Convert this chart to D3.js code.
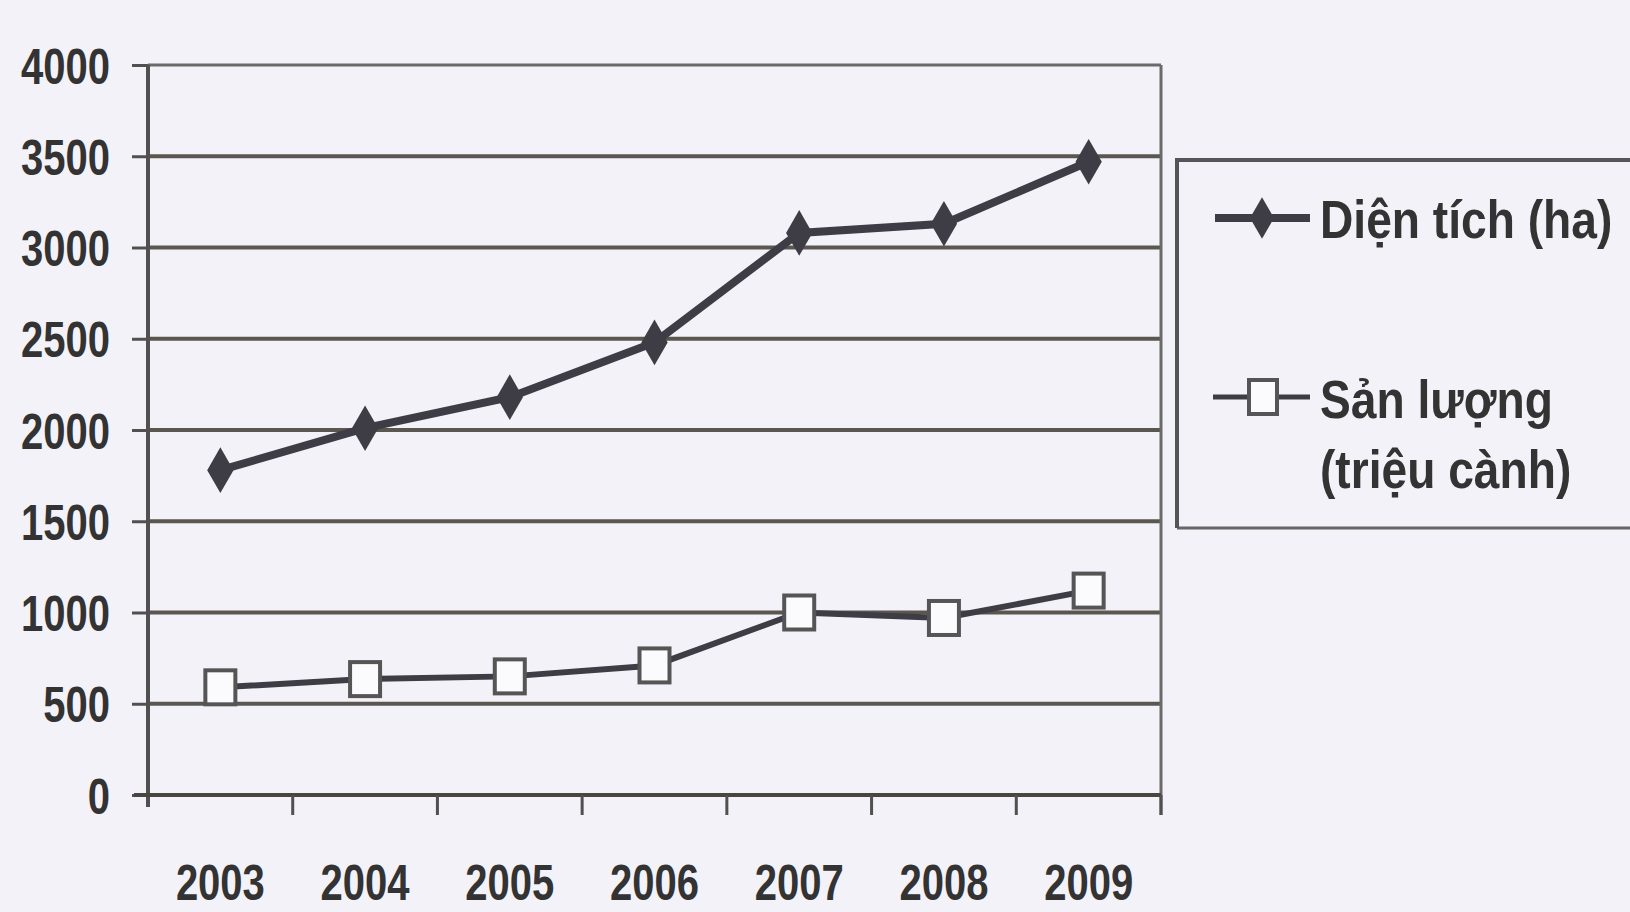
<!DOCTYPE html>
<html>
<head>
<meta charset="utf-8">
<script src="https://cdn.jsdelivr.net/npm/d3@7"></script>
<style>
  html, body { margin: 0; padding: 0; background: #f3f2f8; }
  svg { display: block; }
  .lbl { font-family: "Liberation Sans Narrow", "Arial Narrow", "Liberation Sans", sans-serif; font-weight: bold; fill: #333; }
</style>
</head>
<body>
<div id="chart"></div>
<script>
// data
const years = ['2003', '2004', '2005', '2006', '2007', '2008', '2009'];
const dienTich = [1780, 2010, 2180, 2480, 3080, 3130, 3470];   // ha
const sanLuong = [590, 635, 650, 710, 1000, 970, 1120];        // triệu cành
const yTicks = [0, 500, 1000, 1500, 2000, 2500, 3000, 3500, 4000];
const seriesNames = ['Diện tích (ha)', ['Sản lượng', '(triệu cành)']];

const W = 1630, H = 912;
const margin = { top: 65, left: 148 };
const plotW = 1013, plotH = 730;
const ink = '#3e3d45';

const svg = d3.select('#chart').append('svg')
    .attr('width', W).attr('height', H);

const g = svg.append('g').attr('transform', `translate(${margin.left},${margin.top})`);

const x = d3.scaleBand().domain(years).range([0, plotW]);
const y = d3.scaleLinear().domain([0, 4000]).range([plotH, 0]);

// gridlines
g.selectAll('.grid').data(yTicks.filter(d => d > 0 && d < 4000)).join('line')
    .attr('x1', 0).attr('x2', plotW)
    .attr('y1', d => y(d)).attr('y2', d => y(d))
    .attr('stroke', '#5b5650').attr('stroke-width', 4);

// top + right border
g.append('line').attr('x1', 0).attr('x2', plotW).attr('y1', 0).attr('y2', 0)
    .attr('stroke', '#6a6a6a').attr('stroke-width', 3);
g.append('line').attr('x1', plotW).attr('x2', plotW).attr('y1', 0).attr('y2', plotH + 20)
    .attr('stroke', '#6a6a6a').attr('stroke-width', 3);

// y axis
const yAxis = g.append('g')
    .call(d3.axisLeft(y).tickValues(yTicks).tickSize(16).tickPadding(22).tickFormat(d3.format('d')));
yAxis.select('.domain').attr('stroke', '#505050').attr('stroke-width', 4).attr('d', `M-0,${plotH + 12}V0`);
yAxis.selectAll('.tick line').attr('stroke', '#505050').attr('stroke-width', 3);
yAxis.selectAll('.tick text').attr('class', 'lbl').style('font-size', '50px').attr('dy', '0.36em');

// x axis: ticks sit on band edges
const xAxis = g.append('g').attr('transform', `translate(0,${plotH})`)
    .call(d3.axisBottom(x).tickSize(0).tickPadding(70));
xAxis.select('.domain').attr('stroke', '#4a4540').attr('stroke-width', 4).attr('d', `M-14,0H${plotW}`);
xAxis.selectAll('.tick text').attr('class', 'lbl').style('font-size', '50px');
g.selectAll('.xtick').data(years.slice(1).concat(['end'])).join('line')
    .attr('x1', (d, i) => x(years[i]) + x.bandwidth())
    .attr('x2', (d, i) => x(years[i]) + x.bandwidth())
    .attr('y1', plotH).attr('y2', plotH + 20)
    .attr('stroke', '#505050').attr('stroke-width', 3);

const cx = (d, i) => x(years[i]) + x.bandwidth() / 2;

// Sản lượng line + open squares
const line = d3.line().x(cx).y(d => y(d));
g.append('path').datum(sanLuong).attr('d', line)
    .attr('fill', 'none').attr('stroke', ink).attr('stroke-width', 6);
g.selectAll('.sq').data(sanLuong).join('rect')
    .attr('x', (d, i) => cx(d, i) - 15).attr('y', d => y(d) - 17)
    .attr('width', 30).attr('height', 34)
    .attr('fill', '#fbfbfd').attr('stroke', '#555').attr('stroke-width', 4);

// Diện tích line + diamonds
g.append('path').datum(dienTich).attr('d', line)
    .attr('fill', 'none').attr('stroke', ink).attr('stroke-width', 8);
g.selectAll('.dm').data(dienTich).join('path')
    .attr('transform', (d, i) => `translate(${cx(d, i)},${y(d)})`)
    .attr('d', d3.symbol(d3.symbolDiamond, 600))
    .attr('fill', ink);

// legend
const lg = svg.append('g');
lg.append('path').attr('d', 'M1177,528H1640').attr('stroke', '#666').attr('stroke-width', 3);
lg.append('path').attr('d', 'M1177,528V160H1640').attr('fill', 'none').attr('stroke', '#555').attr('stroke-width', 4);

lg.append('line').attr('x1', 1215).attr('x2', 1310).attr('y1', 218).attr('y2', 218)
    .attr('stroke', ink).attr('stroke-width', 8);
lg.append('path').attr('transform', 'translate(1262,218)')
    .attr('d', d3.symbol(d3.symbolDiamond, 500)).attr('fill', ink);
lg.append('text').attr('class', 'lbl leg').attr('x', 1320).attr('y', 238)
    .style('font-size', '54px').text(seriesNames[0]);

lg.append('line').attr('x1', 1213).attr('x2', 1310).attr('y1', 397).attr('y2', 397)
    .attr('stroke', ink).attr('stroke-width', 5);
lg.append('rect').attr('x', 1249).attr('y', 380).attr('width', 28).attr('height', 34)
    .attr('fill', '#fbfbfd').attr('stroke', '#555').attr('stroke-width', 4);
lg.append('text').attr('class', 'lbl leg').attr('x', 1320).attr('y', 418)
    .style('font-size', '54px').text(seriesNames[1][0]);
lg.append('text').attr('class', 'lbl leg').attr('x', 1320).attr('y', 488)
    .style('font-size', '54px').text(seriesNames[1][1]);

// no narrow font installed: squeeze the glyphs horizontally so they look condensed
svg.selectAll('text.lbl').each(function() {
    const t = d3.select(this);
    const k = t.classed('leg') ? 0.855 : 0.8;
    const x0 = +t.attr('x') || 0;
    t.attr('x', x0 / k).attr('transform', `scale(${k},1)`);
});
</script>
</body>
</html>
